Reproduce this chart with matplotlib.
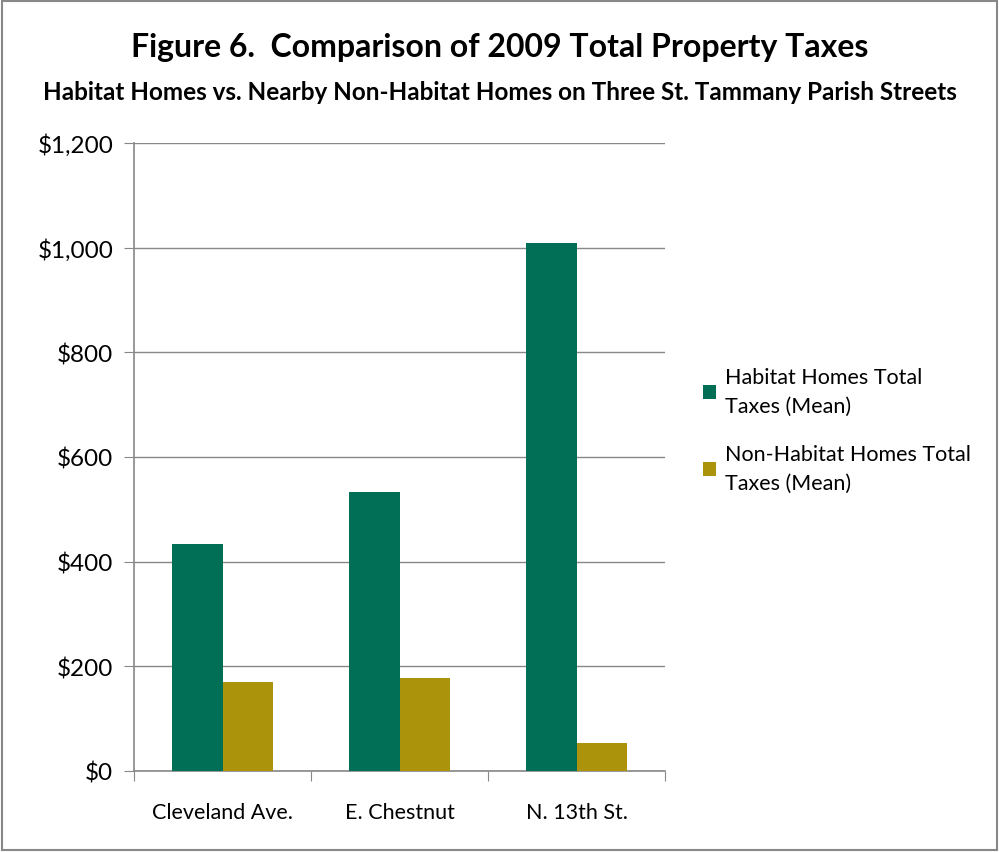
import matplotlib
matplotlib.use("Agg")
import matplotlib.pyplot as plt
import numpy as np
from matplotlib.patches import Rectangle

plt.rcParams['font.family'] = ['Lato', 'DejaVu Sans']

streets = ['Cleveland Ave.', 'E. Chestnut', 'N. 13th St.']
habitat = [434, 533, 1009]
non_habitat = [170, 178, 53]
series_names = ['Habitat Homes Total\nTaxes (Mean)', 'Non-Habitat Homes Total\nTaxes (Mean)']
yticks = [0, 200, 400, 600, 800, 1000, 1200]

green = '#006F55'
gold = '#AC930C'
gray = '#888888'

fig = plt.figure(figsize=(9.99, 8.53), dpi=100)
fig.patches.append(Rectangle((0.002, 0.002), 0.996, 0.996, transform=fig.transFigure,
                             fill=False, edgecolor='#888888', linewidth=1.5))
ax = fig.add_axes([134 / 999, 1 - 772 / 853, 531 / 999, 628 / 853])

x = np.arange(len(streets))
w = 0.283
ax.bar(x - w / 2, habitat, w, color=green, label=series_names[0], zorder=3)
ax.bar(x + w / 2, non_habitat, w, color=gold, label=series_names[1], zorder=3)

ax.set_xlim(-0.5, 2.5)
ax.set_ylim(0, 1200)
ax.set_yticks(yticks)
ax.set_yticklabels(['$' + format(v, ',') for v in yticks], fontsize=17.5)
ax.yaxis.grid(True, color=gray, linewidth=1, zorder=0)
ax.set_axisbelow(True)

# category labels between the tick marks
ax.set_xticks([-0.5, 0.5, 1.5, 2.5])
ax.set_xticklabels([])
ax.set_xticks(x, minor=True)
ax.set_xticklabels(streets, minor=True, fontsize=15.5)
ax.tick_params(axis='x', which='minor', length=0, pad=22)
ax.tick_params(axis='x', which='major', length=7, color=gray, direction='out')
ax.tick_params(axis='y', length=7, color=gray, direction='out', pad=8)

for s in ['top', 'right']:
    ax.spines[s].set_visible(False)
for s in ['left', 'bottom']:
    ax.spines[s].set_color(gray)
    ax.spines[s].set_linewidth(1.2)

leg = fig.legend(loc='center left', bbox_to_anchor=(684 / 999, 1 - 431 / 853), frameon=False,
                 fontsize=15.5, handlelength=0.6, handleheight=0.6, handletextpad=0.4,
                 labelspacing=1.3)
for t in leg.get_texts():
    t.set_linespacing(1.55)

fig.text(0.5, 1 - 47 / 853, 'Figure 6.  Comparison of 2009 Total Property Taxes',
         ha='center', va='center', fontsize=23, fontweight='bold')
fig.text(0.5, 1 - 92 / 853, 'Habitat Homes vs. Nearby Non-Habitat Homes on Three St. Tammany Parish Streets',
         ha='center', va='center', fontsize=17.5, fontweight='bold')

fig.savefig('out.png', dpi=100)
